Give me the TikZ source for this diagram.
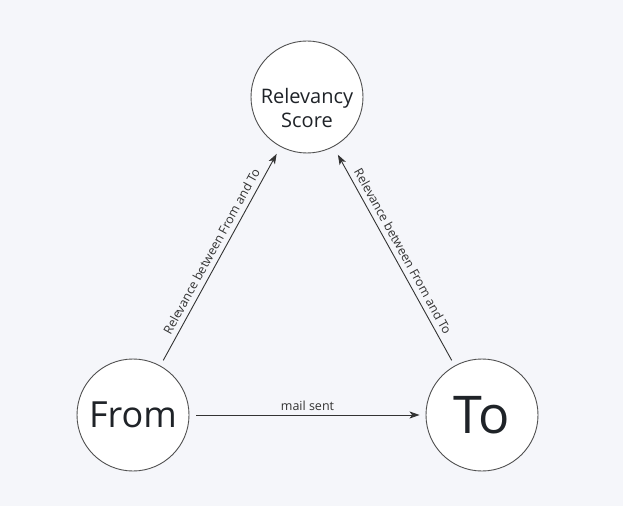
\documentclass[tikz,border=0pt]{standalone}
\usepackage{fontspec}
\setmainfont{Open Sans}
\usetikzlibrary{arrows.meta}
\definecolor{bgc}{HTML}{F5F6FA}
\definecolor{edgec}{HTML}{333333}
\definecolor{rimc}{HTML}{505050}
\definecolor{txtc}{HTML}{1F2328}
\tikzset{
  circ/.style={circle, draw=rimc, line width=0.9pt, fill=white, minimum size=112pt, inner sep=0pt, text=txtc, align=center},
  conn/.style={draw=edgec, line width=0.9pt, -{Stealth[length=10pt,width=7pt,inset=2.5pt]}},
  elabel/.style={font=\fontsize{12.4}{14}\selectfont, text=edgec, inner sep=2pt}
}
\begin{document}
\begin{tikzpicture}[x=1pt,y=1pt]
\fill[bgc] (0,0) rectangle (623,506);
\useasboundingbox (0,0) rectangle (623,506);
\node[circ] (rel) at (307,409) {};
\node[font=\fontsize{20}{23.5}\selectfont, text=txtc, align=center, inner sep=0pt] (reltext) at ([yshift=-11pt]rel.center) {Relevancy\\Score};
\node[circ, font=\fontsize{36}{40}\selectfont] (from) at (133,91) {From};
\node[circ, font=\fontsize{52}{56}\selectfont] (to) at (482,91) {To};
\draw[conn, shorten <=7pt, shorten >=6pt] (from.east) -- node[elabel, font=\fontsize{12.5}{14}\selectfont, above=2pt] {mail sent} (to.west);
\draw[conn, shorten <=6pt, shorten >=8pt] (from.61) -- node[elabel, above=3pt, sloped] {Relevance between From and To} (rel.242);
\draw[conn, shorten <=6pt, shorten >=9pt] (to.119) -- node[elabel, above=3pt, sloped] {Relevance between From and To} (rel.298);
\end{tikzpicture}
\end{document}
